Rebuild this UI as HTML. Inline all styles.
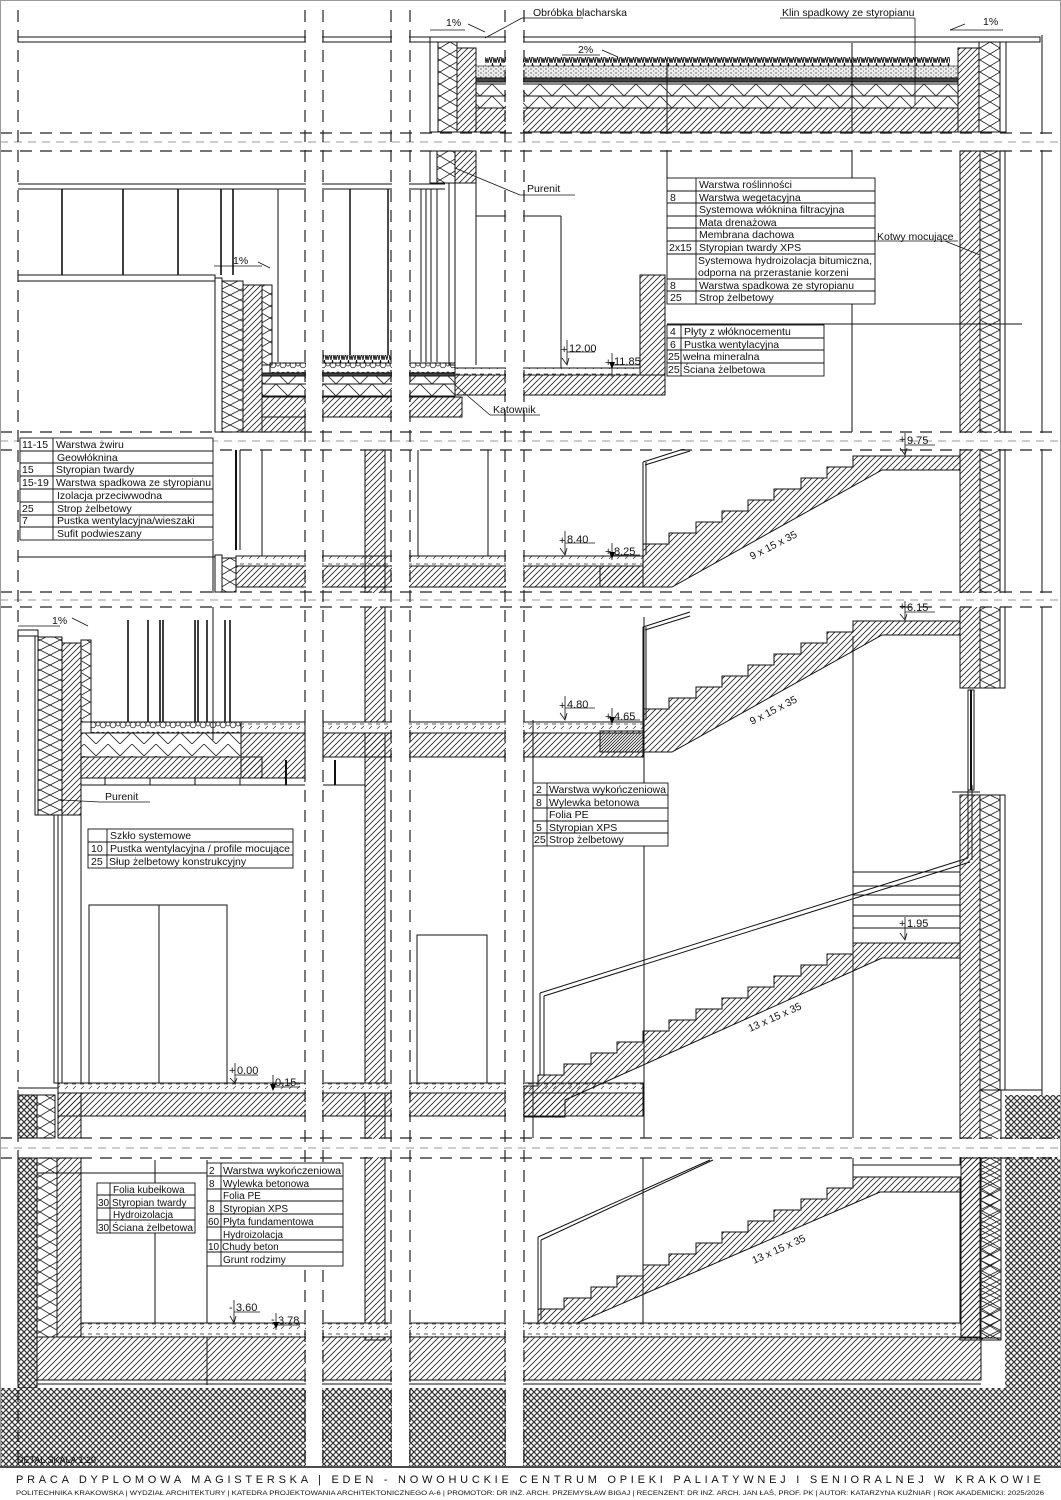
<!DOCTYPE html>
<html><head><meta charset="utf-8"><style>
html,body{margin:0;padding:0;background:#fff}
svg{display:block}
text{font-family:"Liberation Sans",sans-serif;fill:#111}
</style></head><body>
<svg width="1061" height="1500" viewBox="0 0 1061 1500" xmlns="http://www.w3.org/2000/svg">
<defs>
<pattern id="h" width="6" height="6" patternUnits="userSpaceOnUse"><path d="M-1,7 L7,-1 M-1,1 L1,-1 M5,7 L7,5" stroke="#222" stroke-width="0.8"/></pattern>
<pattern id="ins" width="20" height="12" patternUnits="userSpaceOnUse"><path d="M0,0 L20,12 M20,0 L0,12" stroke="#222" stroke-width="0.8" fill="none"/></pattern>
<pattern id="insv" width="20" height="10" patternUnits="userSpaceOnUse"><path d="M0,0 L20,10 M20,0 L0,10" stroke="#222" stroke-width="0.8" fill="none"/></pattern>
<pattern id="zz" width="24" height="12" patternUnits="userSpaceOnUse"><path d="M0,12 L12,0 L24,12" stroke="#222" stroke-width="0.8" fill="none"/></pattern>
<pattern id="soil" width="6" height="6" patternUnits="userSpaceOnUse"><rect width="6" height="6" fill="#fff"/><path d="M-1,7 L7,-1 M-1,-1 L7,7" stroke="#333" stroke-width="1.2"/></pattern>
<pattern id="dots" width="5" height="4" patternUnits="userSpaceOnUse"><rect width="5" height="4" fill="#ececec"/><circle cx="1" cy="1" r="0.7" fill="#555"/><circle cx="3.5" cy="3" r="0.6" fill="#777"/></pattern>
<pattern id="grav" width="10" height="10" patternUnits="userSpaceOnUse"><circle cx="3" cy="5" r="2.8" fill="none" stroke="#222" stroke-width="0.7"/><circle cx="8" cy="4" r="2" fill="none" stroke="#222" stroke-width="0.7"/></pattern>
<pattern id="grass" width="8" height="9" patternUnits="userSpaceOnUse"><path d="M0,9 L1.5,3 L3,9 L4.5,0 L6,9 L7,4 L8,9" stroke="#111" stroke-width="0.9" fill="none"/></pattern>
<pattern id="fin" width="8" height="10" patternUnits="userSpaceOnUse"><rect width="8" height="10" fill="#fff"/><path d="M0,4 L4,4" stroke="#333" stroke-width="0.8"/><path d="M1,9 L4,6" stroke="#333" stroke-width="0.7"/></pattern>
</defs>
<rect width="1061" height="1500" fill="#fff"/>
<g stroke="#111" stroke-width="1">

<!-- ===== ROW 1 roof ===== -->
<rect x="18" y="37" width="412" height="5" fill="#fff"/>
<rect x="430" y="37" width="610" height="5" fill="#fff"/>
<rect x="430" y="42" width="8" height="90" fill="#fff"/>
<rect x="438" y="42" width="19" height="90" fill="url(#ins)"/>
<rect x="457" y="48" width="19" height="84" fill="url(#h)"/>
<rect x="485" y="57" width="465" height="9" fill="url(#grass)" stroke="none"/>
<rect x="476" y="66" width="482" height="12" fill="url(#dots)" stroke-width="0.6"/>
<rect x="476" y="78" width="482" height="4" fill="#444"/>
<rect x="476" y="84" width="482" height="12" fill="url(#zz)"/>
<rect x="476" y="96" width="482" height="12" fill="url(#zz)"/>
<rect x="476" y="108" width="482" height="24" fill="url(#h)"/>
<rect x="958" y="48" width="21" height="84" fill="url(#h)"/>
<rect x="979" y="42" width="21" height="90" fill="url(#ins)"/>
<rect x="1000" y="42" width="6" height="90" fill="#fff"/>
<line x1="667" y1="60" x2="667" y2="178"/>
<line x1="852" y1="43" x2="852" y2="432"/>
<line x1="1042" y1="35" x2="1042" y2="1465"/>

<!-- right wall -->
<rect x="960" y="151" width="20" height="537" fill="url(#h)"/>
<rect x="980" y="151" width="20" height="537" fill="url(#insv)"/>
<rect x="1000" y="151" width="5" height="537" fill="#fff"/>
<rect x="960" y="795" width="20" height="545" fill="url(#h)"/>
<rect x="980" y="795" width="20" height="295" fill="url(#insv)"/>
<rect x="1000" y="795" width="5" height="295" fill="#fff"/>
<rect x="968" y="690" width="6" height="100" fill="#fff"/>
<line x1="971" y1="690" x2="971" y2="790" stroke-width="2"/>
<line x1="952" y1="792" x2="980" y2="792"/>
<rect x="980" y="1090" width="21" height="250" fill="url(#insv)"/>
<rect x="1005" y="1095" width="56" height="370" fill="url(#soil)" stroke="none"/>
<line x1="1005" y1="1090" x2="1042" y2="1090"/>

<!-- ===== ROW 2 ===== -->
<line x1="18" y1="184" x2="445" y2="184"/>
<line x1="18" y1="189" x2="445" y2="189"/>
<g stroke-width="1.6">
<line x1="62" y1="189" x2="62" y2="275"/><line x1="123" y1="189" x2="123" y2="275"/><line x1="178" y1="189" x2="178" y2="275"/>
<line x1="221" y1="189" x2="221" y2="275"/><line x1="233" y1="189" x2="233" y2="275"/></g>
<line x1="278" y1="189" x2="278" y2="362"/>
<line x1="350" y1="189" x2="350" y2="355" stroke-width="1.5"/><line x1="388" y1="189" x2="388" y2="355" stroke-width="1.5"/>
<line x1="421" y1="189" x2="421" y2="362"/><line x1="426" y1="189" x2="426" y2="362"/><line x1="431" y1="189" x2="431" y2="362"/><line x1="437" y1="189" x2="437" y2="362"/>
<rect x="449" y="183" width="6" height="182" fill="#fff"/>
<rect x="430" y="151" width="7" height="32" fill="#fff"/>
<rect x="437" y="151" width="18" height="32" fill="url(#ins)"/>
<rect x="455" y="151" width="21" height="32" fill="url(#h)"/>
<rect x="18" y="275" width="197" height="6" fill="#fff"/>
<rect x="215" y="278" width="7" height="154" fill="#fff"/>
<rect x="222" y="281" width="21" height="151" fill="url(#insv)"/>
<rect x="243" y="285" width="19" height="147" fill="url(#h)"/>
<rect x="262" y="285" width="10" height="80" fill="url(#ins)"/>
<rect x="323" y="355" width="68" height="8" fill="url(#grass)" stroke="none"/>
<rect x="270" y="363" width="185" height="10" fill="url(#grav)"/>
<rect x="262" y="373" width="193" height="3" fill="#444"/>
<rect x="262" y="376" width="193" height="8" fill="url(#zz)"/>
<rect x="262" y="384" width="193" height="12" fill="url(#zz)"/>
<rect x="262" y="397" width="200" height="20" fill="url(#h)"/>
<rect x="262" y="417" width="43" height="15" fill="url(#h)"/>
<rect x="455" y="368" width="185" height="7" fill="url(#fin)"/>
<rect x="455" y="375" width="210" height="20" fill="url(#h)"/>
<rect x="640" y="275" width="25" height="100" fill="url(#h)"/>
<line x1="476" y1="151" x2="476" y2="365"/>
<line x1="476" y1="216" x2="561" y2="216"/><line x1="561" y1="216" x2="561" y2="368"/>
<line x1="667" y1="324" x2="1022" y2="324"/>

<!-- ===== ROW 3 ===== -->
<line x1="18" y1="557" x2="215" y2="557"/>
<line x1="213" y1="541" x2="213" y2="740"/>
<line x1="236" y1="450" x2="236" y2="550" stroke-width="2"/><line x1="240" y1="450" x2="240" y2="550"/>
<line x1="262" y1="450" x2="262" y2="556"/>
<line x1="418" y1="450" x2="418" y2="556"/><line x1="488" y1="450" x2="488" y2="556"/>
<rect x="215" y="555" width="7" height="37" fill="#fff"/>
<rect x="222" y="558" width="14" height="34" fill="url(#ins)"/>
<rect x="236" y="556" width="407" height="10" fill="url(#fin)"/>
<rect x="236" y="566" width="407" height="21" fill="url(#h)"/>
<rect x="365" y="450" width="20" height="890" fill="url(#h)"/>
<!-- stair A -->
<polygon fill="url(#h)" points="643,555 643,544 669,544 669,533 696,533 696,522 722,522 722,511 748,511 748,500 774,500 774,489 801,489 801,478 827,478 827,467 853,467 853,456 960,456 960,470 882,470 672,587 600,587 600,566 643,566"/>
<line x1="643" y1="462" x2="643" y2="555"/><line x1="646" y1="462" x2="646" y2="555"/>
<line x1="643" y1="462" x2="690" y2="447"/><line x1="645" y1="465" x2="690" y2="451"/>

<!-- ===== ROW 4 ===== -->
<rect x="18" y="630" width="20" height="6" fill="#fff"/>
<rect x="35" y="636" width="3" height="179" fill="#fff"/>
<rect x="38" y="637" width="24" height="178" fill="url(#insv)"/>
<rect x="62" y="643" width="19" height="172" fill="url(#h)"/>
<rect x="81" y="640" width="10" height="82" fill="url(#ins)"/>
<g stroke-width="1.6">
<line x1="128" y1="620" x2="128" y2="722"/><line x1="148" y1="620" x2="148" y2="722"/><line x1="160" y1="620" x2="160" y2="722"/>
<line x1="163" y1="620" x2="163" y2="722"/><line x1="195" y1="620" x2="195" y2="722"/><line x1="198" y1="620" x2="198" y2="722"/>
<line x1="207" y1="620" x2="207" y2="722"/><line x1="225" y1="620" x2="225" y2="722"/><line x1="230" y1="620" x2="230" y2="722"/></g>
<rect x="91" y="722" width="150" height="11" fill="url(#grav)"/>
<rect x="81" y="733" width="160" height="24" fill="url(#zz)"/>
<rect x="81" y="757" width="181" height="21" fill="url(#h)"/>
<rect x="241" y="722" width="64" height="11" fill="url(#fin)"/>
<rect x="241" y="733" width="64" height="45" fill="url(#h)"/>
<line x1="81" y1="785" x2="305" y2="785"/><line x1="323" y1="785" x2="365" y2="785"/>
<line x1="105" y1="778" x2="105" y2="785"/><line x1="150" y1="778" x2="150" y2="785"/><line x1="195" y1="778" x2="195" y2="785"/><line x1="240" y1="778" x2="240" y2="785"/>
<line x1="286" y1="760" x2="286" y2="785" stroke-width="2"/><line x1="335" y1="760" x2="335" y2="785" stroke-width="2"/>
<rect x="323" y="722" width="320" height="11" fill="url(#fin)"/>
<rect x="323" y="733" width="320" height="24" fill="url(#h)"/>
<rect x="54" y="815" width="8" height="268" fill="#fff"/><line x1="58" y1="815" x2="58" y2="1083"/>
<line x1="81" y1="815" x2="81" y2="1090"/>
<rect x="89" y="905" width="138" height="180" fill="none"/><line x1="159" y1="905" x2="159" y2="1085"/>
<rect x="417" y="935" width="70" height="150" fill="none"/>
<rect x="58" y="1083" width="585" height="10" fill="url(#fin)"/>
<rect x="58" y="1093" width="585" height="23" fill="url(#h)"/>
<rect x="58" y="1093" width="23" height="45" fill="url(#h)"/>
<rect x="18" y="1095" width="19" height="43" fill="url(#soil)"/>
<rect x="37" y="1095" width="18" height="43" fill="url(#ins)"/>
<line x1="18" y1="1088" x2="58" y2="1088"/>
<line x1="533" y1="720" x2="533" y2="1138"/>
<line x1="644" y1="617" x2="644" y2="1138"/>
<line x1="853" y1="636" x2="853" y2="1138"/>
<!-- stair B -->
<g transform="translate(0,165)">
<polygon fill="url(#h)" points="643,555 643,544 669,544 669,533 696,533 696,522 722,522 722,511 748,511 748,500 774,500 774,489 801,489 801,478 827,478 827,467 853,467 853,456 960,456 960,470 882,470 672,587 600,587 600,566 643,566"/>
<line x1="643" y1="462" x2="643" y2="555"/><line x1="646" y1="462" x2="646" y2="555"/>
<line x1="643" y1="462" x2="690" y2="447"/><line x1="645" y1="465" x2="690" y2="451"/>
</g>
<g stroke-width="0.9"><line x1="853" y1="872" x2="960" y2="872"/><line x1="853" y1="886" x2="960" y2="886"/><line x1="853" y1="895" x2="960" y2="895"/><line x1="853" y1="905" x2="960" y2="905"/><line x1="853" y1="916" x2="960" y2="916"/><line x1="853" y1="928" x2="960" y2="928"/></g>
<!-- stair C -->
<polygon fill="url(#h)" points="538,1086 538,1075 564,1075 564,1064 591,1064 591,1053 617,1053 617,1042 643,1042 643,1031 669,1031 669,1020 696,1020 696,1009 722,1009 722,998 748,998 748,987 774,987 774,976 801,976 801,965 827,965 827,954 853,954 853,943 960,943 960,958 882,958 565,1100 565,1117 524,1117 524,1086"/>
<line x1="540" y1="993" x2="968" y2="858"/><line x1="544" y1="996" x2="970" y2="862"/>
<line x1="540" y1="993" x2="540" y2="1075"/><line x1="544" y1="996" x2="544" y2="1075"/>
<line x1="968" y1="785" x2="968" y2="858"/><line x1="972" y1="785" x2="972" y2="860"/>

<!-- ===== ROW 5 ===== -->
<rect x="18" y="1158" width="19" height="230" fill="url(#soil)"/>
<rect x="37" y="1158" width="20" height="179" fill="url(#ins)"/>
<rect x="57" y="1158" width="24" height="179" fill="url(#h)"/>
<line x1="37" y1="1173" x2="207" y2="1173"/>
<line x1="155" y1="1160" x2="155" y2="1325"/>
<line x1="207" y1="1160" x2="207" y2="1385"/>
<rect x="81" y="1323" width="880" height="14" fill="url(#fin)"/>
<rect x="37" y="1337" width="944" height="43" fill="url(#h)"/>
<rect x="961" y="1158" width="20" height="180" fill="url(#h)"/>
<rect x="981" y="1158" width="20" height="180" fill="url(#ins)"/>
<line x1="37" y1="1384" x2="981" y2="1384"/>
<rect x="0" y="1388" width="1061" height="78" fill="url(#soil)" stroke="none"/>
<line x1="643" y1="1158" x2="643" y2="1323"/><line x1="853" y1="1158" x2="853" y2="1177"/>
<!-- stair D -->
<polygon fill="url(#h)" points="538,1320 538,1309 564,1309 564,1298 591,1298 591,1287 617,1287 617,1276 643,1276 643,1265 669,1265 669,1254 696,1254 696,1243 722,1243 722,1232 748,1232 748,1221 774,1221 774,1210 801,1210 801,1199 827,1199 827,1188 853,1188 853,1177 961,1177 961,1192 880,1192 577,1323 538,1323"/>
<line x1="538" y1="1237" x2="710" y2="1160"/><line x1="541" y1="1240" x2="713" y2="1160"/>
<line x1="538" y1="1237" x2="538" y2="1320"/><line x1="541" y1="1240" x2="541" y2="1320"/>
<rect x="853" y="1165" width="108" height="12" fill="#fff"/>
</g>

<!-- ===== BANDS ===== -->
<g fill="#fff">
<rect x="0" y="134" width="1061" height="16"/>
<rect x="0" y="433" width="1061" height="16"/>
<rect x="0" y="593" width="1061" height="14"/>
<rect x="0" y="1139" width="1061" height="18"/>
<rect x="306" y="0" width="16" height="1466"/>
<rect x="392" y="0" width="17" height="1466"/>
<rect x="506" y="0" width="17" height="1466"/>
</g>
<g stroke="#ccc" stroke-width="2" stroke-dasharray="8 6">
<line x1="0" y1="142" x2="1061" y2="142"/><line x1="0" y1="441" x2="1061" y2="441"/><line x1="0" y1="600" x2="1061" y2="600"/><line x1="0" y1="1148" x2="1061" y2="1148"/>
</g>
<g stroke="#222" stroke-width="1.2" stroke-dasharray="12 8" fill="none">
<line x1="0" y1="133" x2="1061" y2="133"/><line x1="0" y1="151" x2="1061" y2="151"/>
<line x1="0" y1="432" x2="1061" y2="432"/><line x1="0" y1="450" x2="1061" y2="450"/>
<line x1="0" y1="592" x2="1061" y2="592"/><line x1="0" y1="607" x2="1061" y2="607"/>
<line x1="0" y1="1138" x2="1061" y2="1138"/><line x1="0" y1="1158" x2="1061" y2="1158"/>
<line x1="18" y1="10" x2="18" y2="1466"/>
<line x1="305" y1="10" x2="305" y2="1466"/><line x1="323" y1="10" x2="323" y2="1466"/>
<line x1="391" y1="10" x2="391" y2="1466"/><line x1="410" y1="10" x2="410" y2="1466"/>
<line x1="505" y1="10" x2="505" y2="1466"/><line x1="524" y1="10" x2="524" y2="1466"/>
</g>
<rect x="0.5" y="0.5" width="1060" height="1499" fill="none" stroke="#999"/>

<!-- ===== LABELS ===== -->
<g font-size="11" stroke="#111" stroke-width="0.8" fill="none">
<line x1="485" y1="38" x2="522" y2="18"/><line x1="522" y1="18" x2="583" y2="18"/>
<line x1="780" y1="18" x2="915" y2="18"/><line x1="915" y1="18" x2="915" y2="105"/>
<line x1="430" y1="30" x2="465" y2="30"/><line x1="468" y1="24" x2="485" y2="32"/>
<line x1="950" y1="30" x2="1003" y2="30"/><line x1="950" y1="30" x2="965" y2="24"/>
<line x1="562" y1="55" x2="600" y2="55"/><line x1="602" y1="50" x2="618" y2="57"/>
<line x1="455" y1="168" x2="520" y2="195"/><line x1="520" y1="195" x2="575" y2="195"/>
<line x1="455" y1="385" x2="490" y2="415"/><line x1="490" y1="415" x2="540" y2="415"/>
<line x1="875" y1="241" x2="958" y2="241"/><line x1="945" y1="241" x2="980" y2="255"/>
<line x1="214" y1="266" x2="262" y2="266"/><line x1="258" y1="262" x2="270" y2="268"/>
<line x1="18" y1="626" x2="60" y2="626"/><line x1="72" y1="618" x2="88" y2="626"/>
<line x1="62" y1="800" x2="100" y2="802"/><line x1="100" y1="802" x2="150" y2="802"/>
</g>
<g font-size="10.5">
<text x="446" y="26">1%</text><text x="983" y="25">1%</text>
<text x="533" y="16">Obróbka blacharska</text>
<text x="782" y="16">Klin spadkowy ze styropianu</text>
<text x="578" y="53">2%</text>
<text x="527" y="192">Purenit</text>
<text x="493" y="413">Kątownik</text>
<text x="877" y="240">Kotwy mocujące</text>
<text x="233" y="264">1%</text>
<text x="52" y="624">1%</text>
<text x="105" y="800">Purenit</text>
<text x="752" y="560" transform="rotate(-27 752 560)">9 x 15 x 35</text>
<text x="752" y="725" transform="rotate(-27 752 725)">9 x 15 x 35</text>
<text x="750" y="1032" transform="rotate(-24 750 1032)">13 x 15 x 35</text>
<text x="754" y="1264" transform="rotate(-24 754 1264)">13 x 15 x 35</text>
<text x="17" y="1463" font-size="9">DETAL SKALA 1:20</text>
</g>
<!-- levels -->
<g font-size="11" stroke="#111" stroke-width="0.8">
<g fill="none">
<path d="M567,340 V365 M567,352 H595 M562,358 L567,365 L569,358"/>
<path d="M612,353 V377 M612,365 H640"/>
<path d="M565,531 V555 M565,543 H595 M560,548 L565,555 L567,548"/>
<path d="M612,543 V560 M612,555 H640"/>
<path d="M905,433 V455 M905,445 H935 M900,448 L905,455 L907,448"/>
<path d="M565,696 V720 M565,708 H595 M560,713 L565,720 L567,713"/>
<path d="M612,708 V725 M612,720 H640"/>
<path d="M905,601 V620 M905,612 H935 M900,614 L905,620 L907,614"/>
<path d="M905,917 V940 M905,928 H935 M900,933 L905,940 L907,933"/>
<path d="M235,1063 V1083 M235,1075 H258 M230,1078 L235,1083 L237,1078"/>
<path d="M273,1075 V1090 M273,1087 H300"/>
<path d="M234,1300 V1323 M234,1312 H260 M230,1316 L234,1323 L236,1316"/>
<path d="M276,1313 V1330 M276,1325 H300"/>
</g>
<g stroke="none">
<text x="561" y="353">+</text><text x="569" y="352">12.00</text>
<text x="605" y="366">+</text><text x="614" y="365">11.85</text>
<text x="559" y="544">+</text><text x="567" y="543">8.40</text>
<text x="605" y="555">+</text><text x="614" y="555">8.25</text>
<text x="899" y="443">+</text><text x="907" y="444">9.75</text>
<text x="559" y="709">+</text><text x="567" y="708">4.80</text>
<text x="605" y="720">+</text><text x="614" y="720">4.65</text>
<text x="899" y="610">+</text><text x="907" y="611">6.15</text>
<text x="899" y="927">+</text><text x="907" y="927">1.95</text>
<text x="229" y="1074">+</text><text x="237" y="1074">0.00</text>
<text x="268" y="1086">-</text><text x="275" y="1086">0.15</text>
<text x="229" y="1311">-</text><text x="236" y="1311">3.60</text>
<text x="271" y="1323">-</text><text x="278" y="1324">3.78</text>
<polygon points="609,362 615,362 612,369"/><polygon points="609,552 615,552 612,559"/><polygon points="609,717 615,717 612,724"/>
<polygon points="270,1084 276,1084 273,1091"/><polygon points="273,1322 279,1322 276,1329"/>
</g></g>

<!-- ===== TABLES ===== -->
<g font-size="10.5">
<g fill="#fff" stroke="#111" stroke-width="0.9">
<rect x="667" y="178" width="208" height="126"/>
<path d="M696,178 V304 M667,191 H875 M667,203 H875 M667,216 H875 M667,228 H875 M667,241 H875 M667,254 H875 M667,279 H875 M667,291 H875" fill="none"/>
<rect x="667" y="325" width="157" height="51"/>
<path d="M681,325 V376 M667,338 H824 M667,350 H824 M667,363 H824" fill="none"/>
<rect x="20" y="438" width="193" height="102"/>
<path d="M53,438 V540 M20,451 H213 M20,463 H213 M20,476 H213 M20,489 H213 M20,502 H213 M20,515 H213 M20,527 H213" fill="none"/>
<rect x="88" y="829" width="205" height="39"/>
<path d="M107,829 V868 M88,842 H293 M88,855 H293" fill="none"/>
<rect x="533" y="783" width="135" height="63"/>
<path d="M547,783 V846 M533,795 H668 M533,808 H668 M533,821 H668 M533,833 H668" fill="none"/>
<rect x="97" y="1183" width="98" height="50"/>
<path d="M110,1183 V1233 M97,1195 H195 M97,1208 H195 M97,1220 H195" fill="none"/>
<rect x="207" y="1163" width="136" height="103"/>
<path d="M221,1163 V1266 M207,1176 H343 M207,1189 H343 M207,1201 H343 M207,1214 H343 M207,1227 H343 M207,1240 H343 M207,1252 H343" fill="none"/>
</g>
<text x="699" y="188">Warstwa roślinności</text>
<text x="670" y="201">8</text><text x="699" y="201">Warstwa wegetacyjna</text>
<text x="699" y="213">Systemowa włóknina filtracyjna</text>
<text x="699" y="226">Mata drenażowa</text>
<text x="699" y="238">Membrana dachowa</text>
<text x="669" y="251">2x15</text><text x="699" y="251">Styropian twardy XPS</text>
<text x="698" y="264" textLength="174" lengthAdjust="spacingAndGlyphs">Systemowa hydroizolacja bitumiczna,</text>
<text x="698" y="276">odporna na przerastanie korzeni</text>
<text x="670" y="289">8</text><text x="699" y="289" textLength="155" lengthAdjust="spacingAndGlyphs">Warstwa spadkowa ze styropianu</text>
<text x="670" y="301">25</text><text x="699" y="301">Strop żelbetowy</text>
<text x="670" y="335">4</text><text x="684" y="335">Płyty z włóknocementu</text>
<text x="670" y="348">6</text><text x="684" y="348">Pustka wentylacyjna</text>
<text x="668" y="360">25</text><text x="683" y="360">wełna mineralna</text>
<text x="668" y="373">25</text><text x="683" y="373">Ściana żelbetowa</text>
<text x="22" y="448">11-15</text><text x="56" y="448">Warstwa żwiru</text>
<text x="57" y="461">Geowłóknina</text>
<text x="22" y="473">15</text><text x="56" y="473">Styropian twardy</text>
<text x="22" y="486">15-19</text><text x="56" y="486" textLength="155" lengthAdjust="spacingAndGlyphs">Warstwa spadkowa ze styropianu</text>
<text x="57" y="499">Izolacja przeciwwodna</text>
<text x="22" y="512">25</text><text x="57" y="512">Strop żelbetowy</text>
<text x="22" y="524">7</text><text x="57" y="524">Pustka wentylacyjna/wieszaki</text>
<text x="57" y="537">Sufit podwieszany</text>
<text x="110" y="839">Szkło systemowe</text>
<text x="91" y="852">10</text><text x="110" y="852" textLength="180" lengthAdjust="spacingAndGlyphs">Pustka wentylacyjna / profile mocujące</text>
<text x="91" y="865">25</text><text x="109" y="865">Słup żelbetowy konstrukcyjny</text>
<text x="536" y="793">2</text><text x="549" y="793" textLength="117" lengthAdjust="spacingAndGlyphs">Warstwa wykończeniowa</text>
<text x="536" y="806">8</text><text x="549" y="806">Wylewka betonowa</text>
<text x="549" y="818">Folia PE</text>
<text x="536" y="831">5</text><text x="549" y="831">Styropian XPS</text>
<text x="534" y="843">25</text><text x="549" y="843">Strop żelbetowy</text>
<g font-size="10">
<text x="113" y="1193">Folia kubełkowa</text>
<text x="98" y="1206">30</text><text x="112" y="1206">Styropian twardy</text>
<text x="113" y="1218">Hydroizolacja</text>
<text x="98" y="1231">30</text><text x="112" y="1231" textLength="81" lengthAdjust="spacingAndGlyphs">Ściana żelbetowa</text>
<text x="209" y="1174">2</text><text x="223" y="1174" textLength="118" lengthAdjust="spacingAndGlyphs">Warstwa wykończeniowa</text>
<text x="209" y="1187">8</text><text x="223" y="1187">Wylewka betonowa</text>
<text x="223" y="1199">Folia PE</text>
<text x="209" y="1212">8</text><text x="223" y="1212">Styropian XPS</text>
<text x="208" y="1225">60</text><text x="223" y="1225">Płyta fundamentowa</text>
<text x="223" y="1238">Hydroizolacja</text>
<text x="208" y="1250">10</text><text x="222" y="1250">Chudy beton</text>
<text x="223" y="1263">Grunt rodzimy</text>
</g></g>

<!-- ===== TITLE ===== -->
<rect x="0" y="1466" width="1061" height="34" fill="#fff"/>
<line x1="0" y1="1467" x2="1061" y2="1467" stroke="#111" stroke-width="1.5"/>
<text x="16" y="1483" font-size="11" letter-spacing="3.2" textLength="1028" lengthAdjust="spacing">PRACA DYPLOMOWA MAGISTERSKA   |   EDEN - NOWOHUCKIE CENTRUM OPIEKI PALIATYWNEJ I SENIORALNEJ W KRAKOWIE</text>
<text x="16" y="1495" font-size="6.3" textLength="1028" lengthAdjust="spacingAndGlyphs">POLITECHNIKA KRAKOWSKA  |  WYDZIAŁ ARCHITEKTURY  |  KATEDRA PROJEKTOWANIA ARCHITEKTONICZNEGO A-6  |  PROMOTOR: DR INŻ. ARCH. PRZEMYSŁAW BIGAJ  |  RECENZENT: DR INŻ. ARCH. JAN ŁAŚ,          PROF. PK  |  AUTOR: KATARZYNA KUŹNIAR  |  ROK AKADEMICKI: 2025/2026</text>
</svg>
</body></html>
